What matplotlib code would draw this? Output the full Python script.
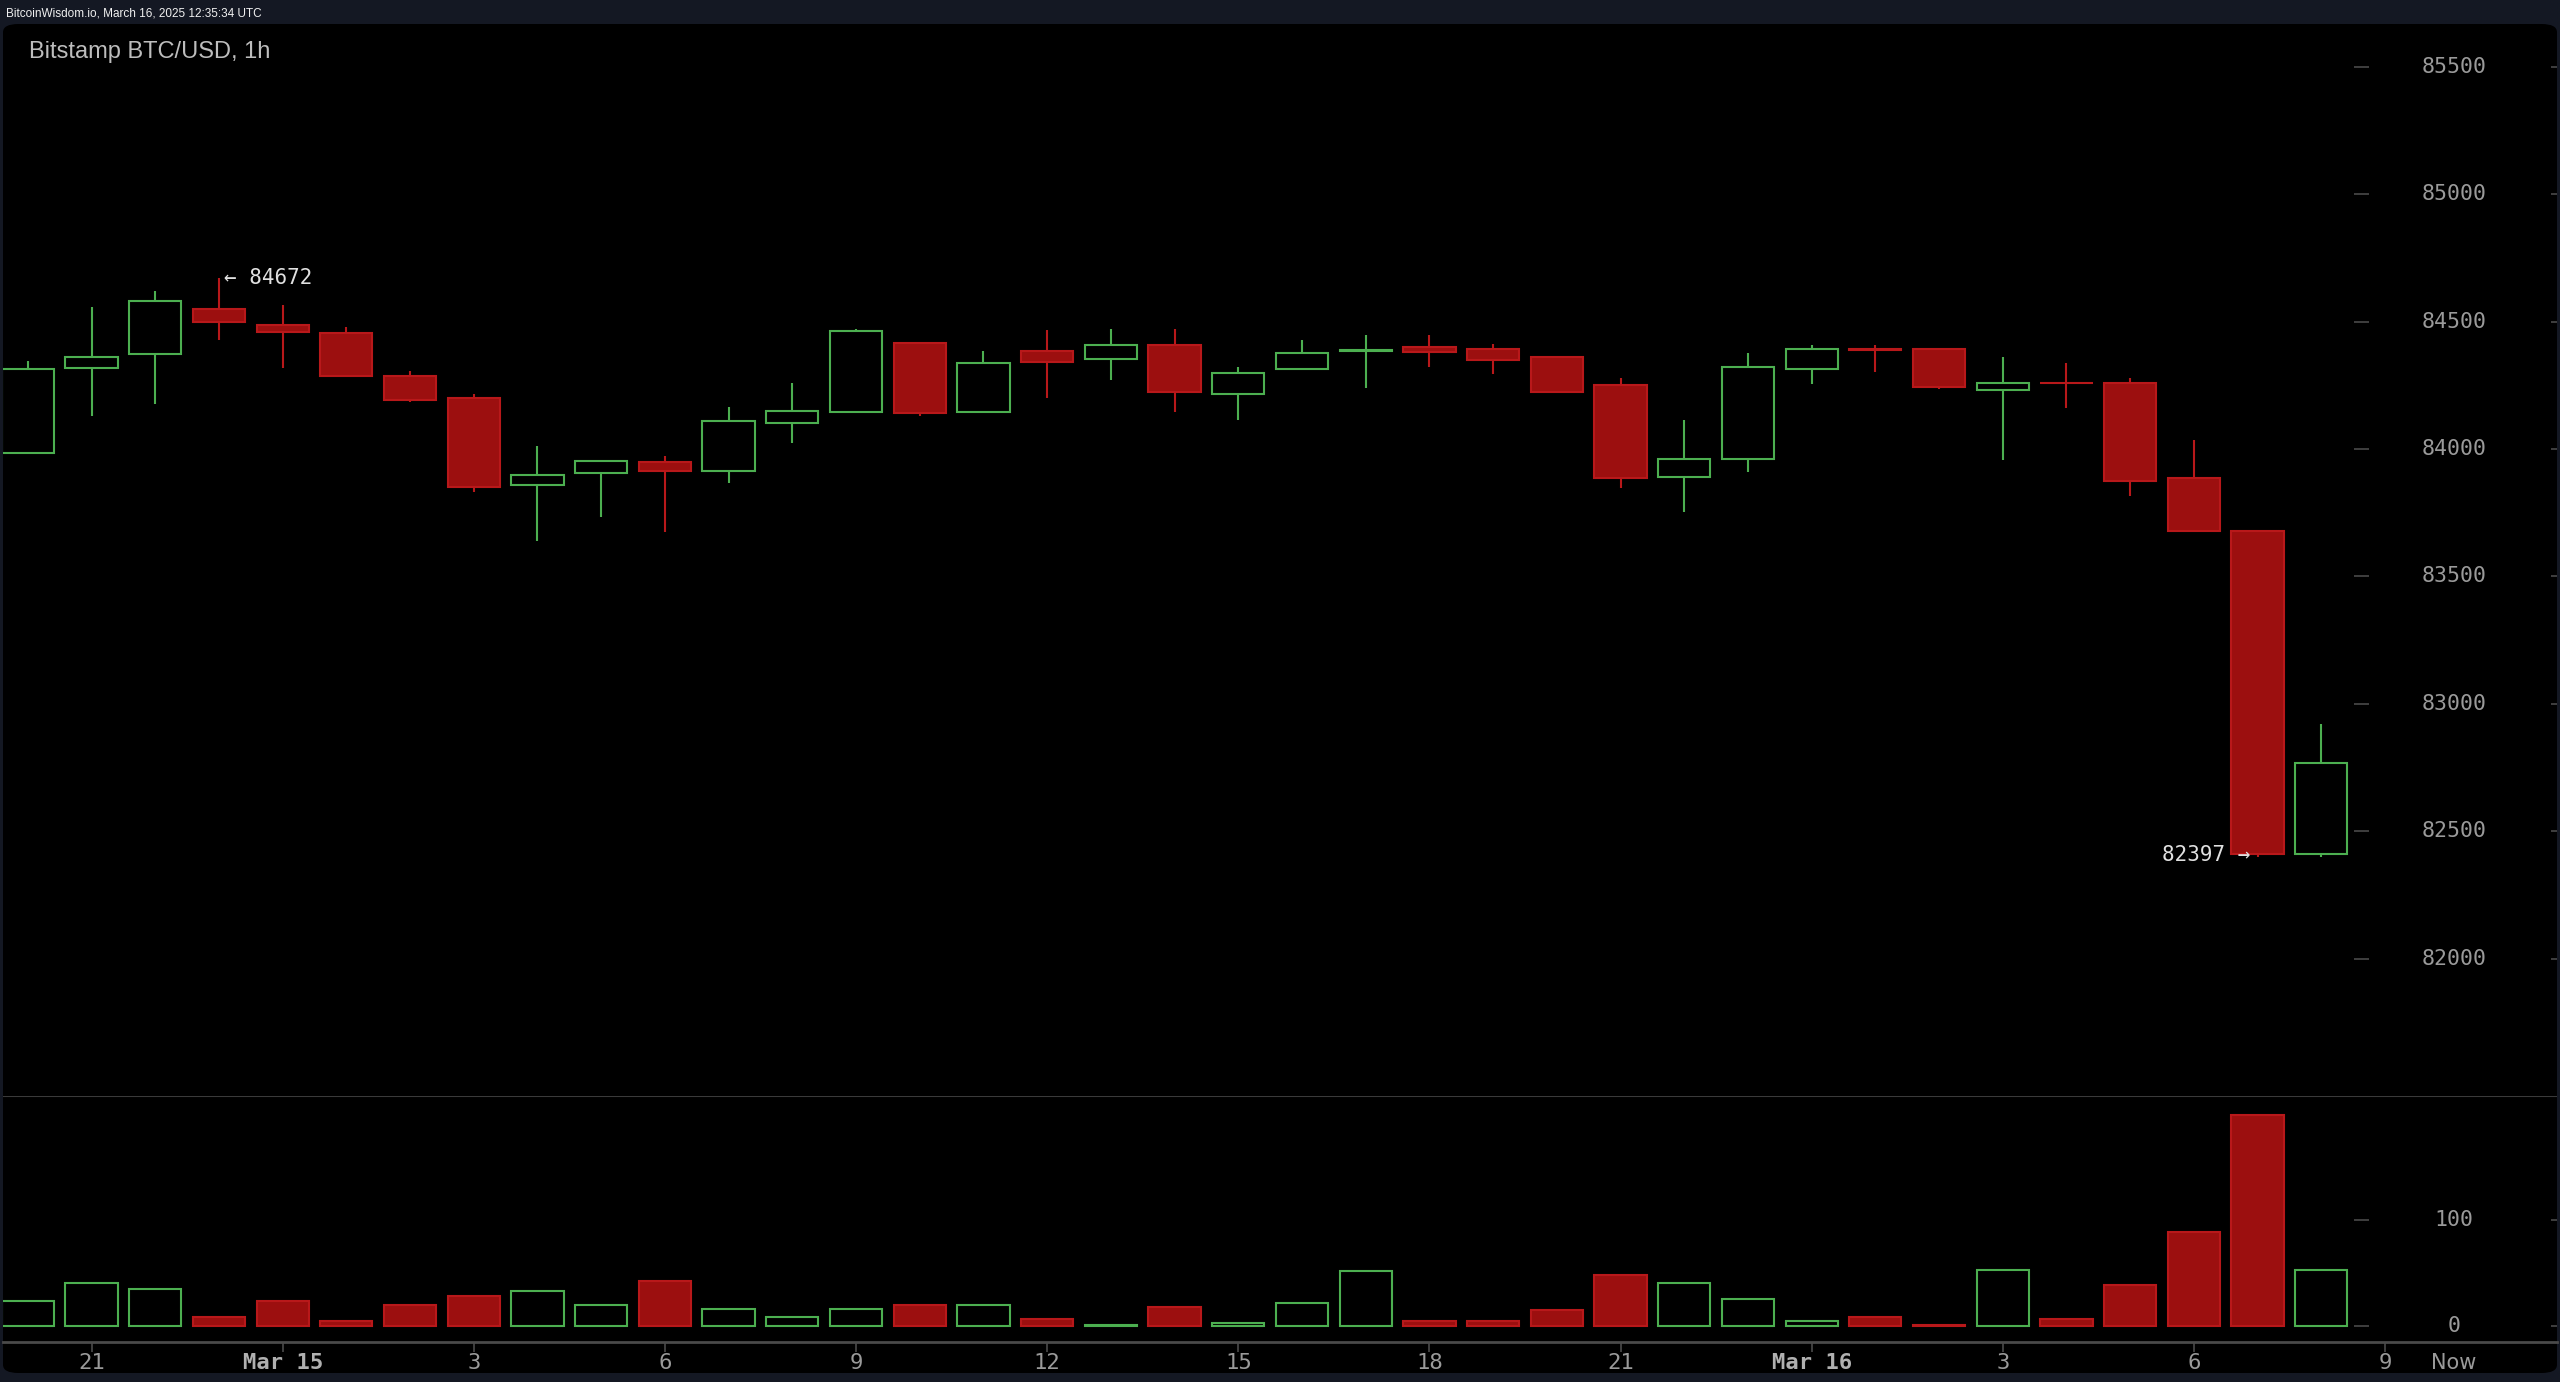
import numpy as np
import pandas as pd
import matplotlib.pyplot as plt
from matplotlib.patches import FancyBboxPatch

# ===========================
# Data  (Bitstamp BTC/USD, 1h candles)
# ===========================

start_time = "2025-03-14 20:00"

opens = [83986, 84319, 84374, 84550, 84488, 84457, 84285, 84199, 83857, 83906,
         83948, 83914, 84102, 84147, 84416, 84147, 84385, 84352, 84408, 84217,
         84313, 84383, 84400, 84393, 84362, 84253, 83889, 83959, 84313, 84393,
         84394, 84233, 84260, 84260, 83885, 83678, 82410]
highs = [84347, 84559, 84621, 84672, 84565, 84480, 84307, 84214, 84012, 83956,
         83973, 84166, 84260, 84472, 84418, 84386, 84466, 84471, 84471, 84323,
         84428, 84447, 84447, 84411, 84365, 84277, 84113, 84378, 84408, 84408,
         84396, 84362, 84339, 84277, 84035, 83680, 82920]
lows = [83980, 84131, 84177, 84428, 84319, 84285, 84183, 83833, 83638, 83732,
        83676, 83865, 84022, 84145, 84131, 84145, 84200, 84271, 84147, 84114,
        84310, 84241, 84323, 84293, 84222, 83848, 83754, 83911, 84255, 84301,
        84234, 83957, 84162, 83817, 83676, 82397, 82400]
closes = [84315, 84361, 84580, 84498, 84459, 84288, 84194, 83850, 83899, 83954,
          83912, 84110, 84149, 84463, 84140, 84338, 84343, 84407, 84225, 84298,
          84375, 84387, 84382, 84351, 84225, 83887, 83962, 84322, 84393, 84390,
          84242, 84259, 84258, 83874, 83678, 82410, 82768]
volumes = [24, 41, 35, 9, 24, 5, 20, 28, 33, 20,
           43, 16, 9, 16, 20, 20, 7, 1.5, 18, 3,
           22, 52, 5, 5, 15, 48, 41, 26, 5, 9,
           1.3, 53, 7, 39, 89, 199, 53]

price_ticks = [82000, 82500, 83000, 83500, 84000, 84500, 85000, 85500]
volume_ticks = [0, 100]

high_label = "\u2190 84672"
low_label = "82397 \u2192"

# ===========================
# Prepare
# ===========================

opens = np.array(opens, dtype=float)
highs = np.array(highs, dtype=float)
lows = np.array(lows, dtype=float)
closes = np.array(closes, dtype=float)
volumes = np.array(volumes, dtype=float)

x = np.arange(len(opens))
up = closes >= opens

GREEN = "#4caf50"
RED_FILL = "#9c0f0f"
RED_EDGE = "#b8181a"
TICK_COL = "#9a9a9a"
BG = "#141823"

# hour ticks every 3 hours (one extra slot for the running candle)
times = pd.date_range(start_time, periods=len(opens) + 1, freq="h")
tick_idx = [i for i, t in enumerate(times) if t.hour % 3 == 0]
tick_lbl = [times[i].strftime("%b %d").replace(" 0", " ") if times[i].hour == 0
            else str(times[i].hour) for i in tick_idx]

# ===========================
# Figure
# ===========================

fig = plt.figure(figsize=(25.6, 13.82), dpi=100, facecolor=BG)

panel = FancyBboxPatch((3 / 2560, 9 / 1382), 2554 / 2560, 1349 / 1382,
                       boxstyle="round,pad=0,rounding_size=0.006",
                       transform=fig.transFigure, facecolor="black",
                       edgecolor="none", zorder=-10)
fig.patches.append(panel)

ax = fig.add_axes([3 / 2560, 1 - 1096 / 1382, 2554 / 2560, 1072 / 1382])
axv = fig.add_axes([3 / 2560, 1 - 1342 / 1382, 2554 / 2560, 246 / 1382], sharex=ax)

for a in (ax, axv):
    a.set_facecolor("none")
    for s in a.spines.values():
        s.set_visible(False)
    a.set_yticks([])

# ===========================
# Candles
# ===========================

w = 0.82
ax.vlines(x[up], lows[up], highs[up], color=GREEN, lw=1.5, zorder=1)
ax.vlines(x[~up], lows[~up], highs[~up], color=RED_EDGE, lw=1.5, zorder=1)

ax.bar(x[up], closes[up] - opens[up], bottom=opens[up], width=w,
       facecolor="black", edgecolor=GREEN, linewidth=1.5, zorder=2)
ax.bar(x[~up], opens[~up] - closes[~up], bottom=closes[~up], width=w,
       facecolor=RED_FILL, edgecolor=RED_EDGE, linewidth=1.5, zorder=2)

ax.set_xlim(-0.39, 39.7)
ax.set_ylim(81461, 85668)

# high / low markers
i_hi = int(np.argmax(highs))
i_lo = int(np.argmin(lows))
ax.text(i_hi + 0.08, highs[i_hi], high_label, color="#e0e0e0", fontsize=15,
        family="DejaVu Sans Mono", va="center", ha="left")
ax.text(i_lo - 0.12, lows[i_lo] + 10, low_label, color="#e0e0e0", fontsize=15,
        family="DejaVu Sans Mono", va="center", ha="right")

# price labels on the right (inside the chart)
ytr = ax.get_yaxis_transform()
for p in price_ticks:
    ax.text(0.9597, p, str(p), transform=ytr, color=TICK_COL, fontsize=15.5,
            family="DejaVu Sans Mono", va="center", ha="center")
ax.hlines(price_ticks, 0.9205, 0.9265, transform=ytr, color="#4a4a4a", lw=1.2)
ax.hlines(price_ticks, 0.9975, 1.0, transform=ytr, color="#4a4a4a", lw=1.2)

ax.tick_params(axis="x", bottom=False, labelbottom=False)

# ===========================
# Volume
# ===========================

axv.bar(x[up], volumes[up], width=w, facecolor="black", edgecolor=GREEN,
        linewidth=1.5, zorder=2)
axv.bar(x[~up], volumes[~up], width=w, facecolor=RED_FILL, edgecolor=RED_EDGE,
        linewidth=1.5, zorder=2)
axv.set_ylim(-15, 217)

vtr = axv.get_yaxis_transform()
for v in volume_ticks:
    axv.text(0.9597, v, str(v), transform=vtr, color=TICK_COL, fontsize=15.5,
             family="DejaVu Sans Mono", va="center", ha="center")
axv.hlines(volume_ticks, 0.9205, 0.9265, transform=vtr, color="#4a4a4a", lw=1.2)
axv.hlines(volume_ticks, 0.9975, 1.0, transform=vtr, color="#4a4a4a", lw=1.2)

# panel divider and time axis line
axv.axhline(217, color="#3a3a3a", lw=1.5)
axv.spines["bottom"].set_visible(True)
axv.spines["bottom"].set_color("#4a4a4a")
axv.spines["bottom"].set_linewidth(2)

axv.set_xticks(tick_idx)
axv.set_xticklabels(tick_lbl)
axv.tick_params(axis="x", colors="#4a4a4a", length=7, width=1.2, pad=1)
for t in axv.get_xticklabels():
    t.set_color(TICK_COL)
    t.set_fontsize(16)
    t.set_family("DejaVu Sans Mono")
    if t.get_text().startswith("Mar"):
        t.set_fontweight("bold")
        t.set_color("#b0b0b0")

axv.text(0.9597, -0.085, "Now", transform=axv.transAxes, color=TICK_COL,
         fontsize=15, family="DejaVu Sans", va="center", ha="center")

# ===========================
# Titles
# ===========================

fig.text(0.0113, 0.9624, "Bitstamp BTC/USD, 1h", color="#bdbdbd", fontsize=17,
         family=["Liberation Sans", "DejaVu Sans"], va="center", ha="left")
fig.text(0.0025, 0.9905, "BitcoinWisdom.io, March 16, 2025 12:35:34 UTC",
         color="#f0f0f0", fontsize=8.5, family=["Liberation Sans", "DejaVu Sans"],
         va="center", ha="left")

plt.savefig("out.png", dpi=100, facecolor=BG)
plt.close()
